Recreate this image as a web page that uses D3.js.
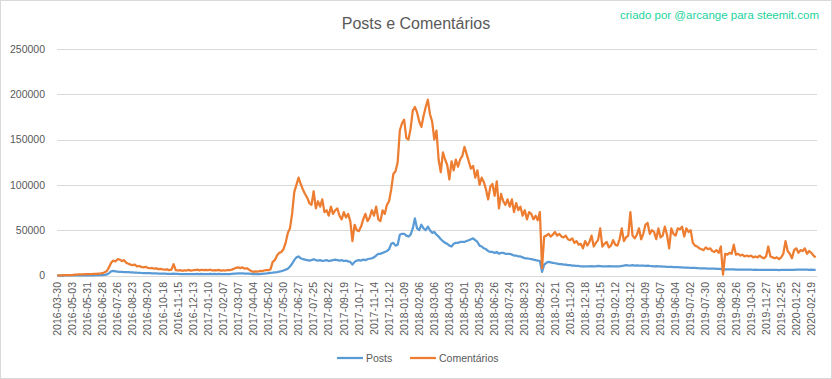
<!DOCTYPE html>
<html>
<head>
<meta charset="utf-8">
<script src="https://cdn.jsdelivr.net/npm/d3@7"></script>
<style>
  body { margin: 0; background: #fff; }
  text { font-family: "Liberation Sans", Arial, sans-serif; }
</style>
</head>
<body>
<svg id="chart" width="832" height="379"></svg>
<script>
// one sample every 4 daily categories, values in thousands
var categoryStep = 4
var categoryCount = 1411
var tickEvery = 28

var tickLabels = [
  '2016-03-30','2016-05-03','2016-05-31','2016-06-28','2016-07-26','2016-08-23','2016-09-20','2016-10-18','2016-11-15','2016-12-13',
  '2017-01-10','2017-02-07','2017-03-07','2017-04-04','2017-05-02','2017-05-30','2017-06-27','2017-07-25','2017-08-22','2017-09-19',
  '2017-10-17','2017-11-14','2017-12-12','2018-01-09','2018-02-06','2018-03-06','2018-04-03','2018-05-01','2018-05-29','2018-06-26',
  '2018-07-24','2018-08-23','2018-09-22','2018-10-21','2018-11-20','2018-12-18','2019-01-15','2019-02-12','2019-03-12','2019-04-09',
  '2019-05-07','2019-06-04','2019-07-02','2019-07-30','2019-08-28','2019-09-26','2019-10-30','2019-11-27','2019-12-25','2020-01-22',
  '2020-02-19'
]

var yTicks = [0, 50000, 100000, 150000, 200000, 250000]

var comments = [
  0.1,0.2,0.2,0.3,0.3,0.4,0.4,0.5,0.9,1.1,
  1.2,1.3,1.2,1.4,1.5,1.4,1.6,1.7,1.8,2.0,
  2.2,2.5,3.5,5,9,14,16.5,15.5,18,17.5,
  16,17,14,13,12,11.5,12,10,10.5,9.5,
  9,9.5,8.5,8,8.3,7.5,7.8,7,7.2,6.8,
  6.5,6.8,6,6.5,12.5,6,5.5,6,5.2,5.8,
  5.5,6.2,5.4,5.8,6,6.5,5.6,6.3,5.9,6.2,
  5.8,6.4,5.5,6,5.6,6.2,5.3,5.8,5.5,6,
  5.8,6.5,7.5,8.5,9,8.2,9,7.5,8,6.5,
  5,4,4.5,4.2,5,4.8,5.5,6,5.8,7,
  15,17,22,25,26,29,36,47,52,68,
  92,100,108,101,95,90,86,80,78,93,
  74,82,76,84,70,72,66,76,68,72,
  74,66,62,70,64,68,60,38,56,50,
  49,54,62,68,60,64,72,66,76,62,
  60,72,68,78,82,95,112,115,125,160,
  168,172,152,150,162,182,186,180,170,164,
  176,186,194,178,170,150,160,128,114,136,
  128,122,106,126,116,128,120,128,132,142,
  134,126,118,121,108,116,100,108,103,95,
  84,98,101,88,104,74,90,82,78,84,
  76,84,70,80,72,76,66,72,62,70,
  68,62,66,61,70,8,43,44,46,43,
  45,48,44,46,43,42,44,40,39,41,
  36,38,34,35,30,38,33,37,44,32,
  36,39,52,32,35,37,31,33,39,34,
  33,40,52,38,42,44,70,44,41,45,
  52,40,46,56,58,46,50,48,40,52,
  42,44,54,45,30,52,46,44,52,51,
  54,43,52,48,50,36,33,32,30,29,
  28,31,29,30,27,26,28,25,32,1,
  24,23,25,24,34,23,24,22,23,21,
  22,21,22,20,21,20,22,20,19,21,
  32,21,20,19,20,18,20,24,38,27,
  24,19,28,30,25,28,27,30,24,27,25,22,20
]

var posts = [
  0,0,0,0,0.1,0.1,0.1,0.1,0.1,0.1,
  0.1,0.1,0.1,0.2,0.2,0.2,0.2,0.2,0.3,0.3,
  0.3,0.4,0.6,1.2,2.5,4.5,5,4.6,4.2,4,
  4,3.8,3.7,3.6,3.5,3.4,3.3,3.1,3,2.8,
  2.7,2.6,2.6,2.5,2.4,2.3,2.3,2.2,2.1,2,
  2,1.9,1.9,1.8,2,1.7,1.7,1.6,1.6,1.5,
  1.5,1.6,1.5,1.5,1.6,1.7,1.6,1.7,1.6,1.6,
  1.6,1.7,1.6,1.7,1.6,1.7,1.6,1.6,1.5,1.6,
  1.6,1.8,2,2.2,2.4,2.3,2.4,2.2,2.1,2,
  1.8,1.6,1.5,1.5,1.6,1.8,2,2.2,2.6,3,
  3.2,3.5,3.8,4.2,4.8,5.5,6.5,7.5,10,13,
  17,20,21,19,18,17.5,17,16.5,17,18,
  17,16.5,17,16,16.5,17,16,16.5,17,17.5,
  17,16.5,17,16,16.5,15.5,15,12,15,16.5,
  17,16.5,17.5,17,18,18.5,19,20,22,24,
  24,25,26,27,29,35,36,33,34,45,
  46,46,44,43,45,52,63,52,50,56,
  52,50,54,50,47,48,45,43,40,38,
  36,35,33,32,35,36,36,37,37,37,
  38,39,40,41,39,37,33,32,30,29,
  27,26,26,25,26,24,25,25,24,24,
  24,23,22,22,21,21,20,19,19,18.5,
  18,17.5,17,16.5,16,4,12,14,15,14.5,
  14,13.5,13,12.5,12.5,12,12,11.5,11.5,11,
  11,10.5,10.5,10,10,10.2,10,10,10.3,10,
  10.2,10.5,10.3,10,10.2,10,10.4,10.2,10,10,
  10,10.2,10.5,11,11.5,11.2,11,11.5,11,11.2,
  11,10.8,11,10.6,10.8,10.5,10.4,10.2,10.3,10,
  10,9.8,9.8,9.6,9.5,9.5,9.3,9.2,9.2,9,
  9,8.8,8.8,8.6,8.5,8.4,8.3,8.2,8,8,
  7.9,7.8,7.7,7.6,7.5,7.5,7.4,7.3,7.2,6,
  6.8,6.8,6.7,6.7,6.8,6.6,6.5,6.6,6.5,6.5,
  6.4,6.5,6.4,6.3,6.4,6.3,6.2,6.3,6.2,6.2,
  6.3,6.2,6.1,6.2,6.1,6,6.1,6.2,6.3,6.2,
  6.3,6.2,6.3,6.4,6.5,6.4,6.5,6.4,6.5,6.3,6.4,6.3,6.2
]

var svg = d3.select('#chart')
var textColor = '#595959'
var gridColor = '#d9d9d9'

svg.append('rect')
   .attr('x', 0.5).attr('y', 0.5)
   .attr('width', 831).attr('height', 378)
   .attr('fill', '#fff')
   .attr('stroke', gridColor)

var x = d3.scaleLinear().domain([0, categoryCount]).range([57, 817])
var y = d3.scaleLinear().domain([0, 250000]).range([275.5, 49])

// gridlines
svg.append('g')
   .selectAll('line')
   .data(yTicks)
   .enter()
   .append('line')
   .attr('x1', 57).attr('x2', 817)
   .attr('y1', d => Math.round(y(d)) + 0.5)
   .attr('y2', d => Math.round(y(d)) + 0.5)
   .attr('stroke', gridColor)
   .attr('stroke-width', 1)

svg.append('g')
   .selectAll('text')
   .data(yTicks)
   .enter()
   .append('text')
   .attr('x', 45)
   .attr('y', d => y(d))
   .attr('dy', '0.35em')
   .attr('text-anchor', 'end')
   .attr('font-size', '10.5px')
   .attr('fill', textColor)
   .text(d => d)

svg.append('g')
   .selectAll('text')
   .data(tickLabels)
   .enter()
   .append('text')
   .attr('transform', (d, i) => 'translate(' + x(i * tickEvery + 0.5) + ',282) rotate(-90)')
   .attr('dy', '0.35em')
   .attr('text-anchor', 'end')
   .attr('font-size', '10.5px')
   .attr('fill', textColor)
   .text(d => d)

var line = d3.line()
   .x((d, i) => x(i * categoryStep + 0.5))
   .y(d => y(d * 1000))

svg.append('path')
   .datum(posts)
   .attr('d', line)
   .attr('fill', 'none')
   .attr('stroke', '#5b9bd5')
   .attr('stroke-width', 2.25)
   .attr('stroke-linejoin', 'round')

svg.append('path')
   .datum(comments)
   .attr('d', line)
   .attr('fill', 'none')
   .attr('stroke', '#ed7d31')
   .attr('stroke-width', 2.25)
   .attr('stroke-linejoin', 'round')

// title and note
svg.append('text')
   .attr('x', 416).attr('y', 29)
   .attr('text-anchor', 'middle')
   .attr('font-size', '16px')
   .attr('fill', textColor)
   .text('Posts e Comentários')

svg.append('text')
   .attr('x', 819).attr('y', 19)
   .attr('text-anchor', 'end')
   .attr('font-size', '11.5px')
   .attr('fill', '#1cd39d')
   .text('criado por @arcange para steemit.com')

// legend
var legend = [
  {name: 'Posts', color: '#5b9bd5', x: 337},
  {name: 'Comentários', color: '#ed7d31', x: 410}
]
var lg = svg.append('g')
lg.selectAll('line')
  .data(legend)
  .enter()
  .append('line')
  .attr('x1', d => d.x).attr('x2', d => d.x + 26)
  .attr('y1', 358).attr('y2', 358)
  .attr('stroke', d => d.color)
  .attr('stroke-width', 2.25)
lg.selectAll('text')
  .data(legend)
  .enter()
  .append('text')
  .attr('x', d => d.x + 29)
  .attr('y', 358)
  .attr('dy', '0.35em')
  .attr('font-size', '10.5px')
  .attr('fill', textColor)
  .text(d => d.name)
</script>
</body>
</html>
